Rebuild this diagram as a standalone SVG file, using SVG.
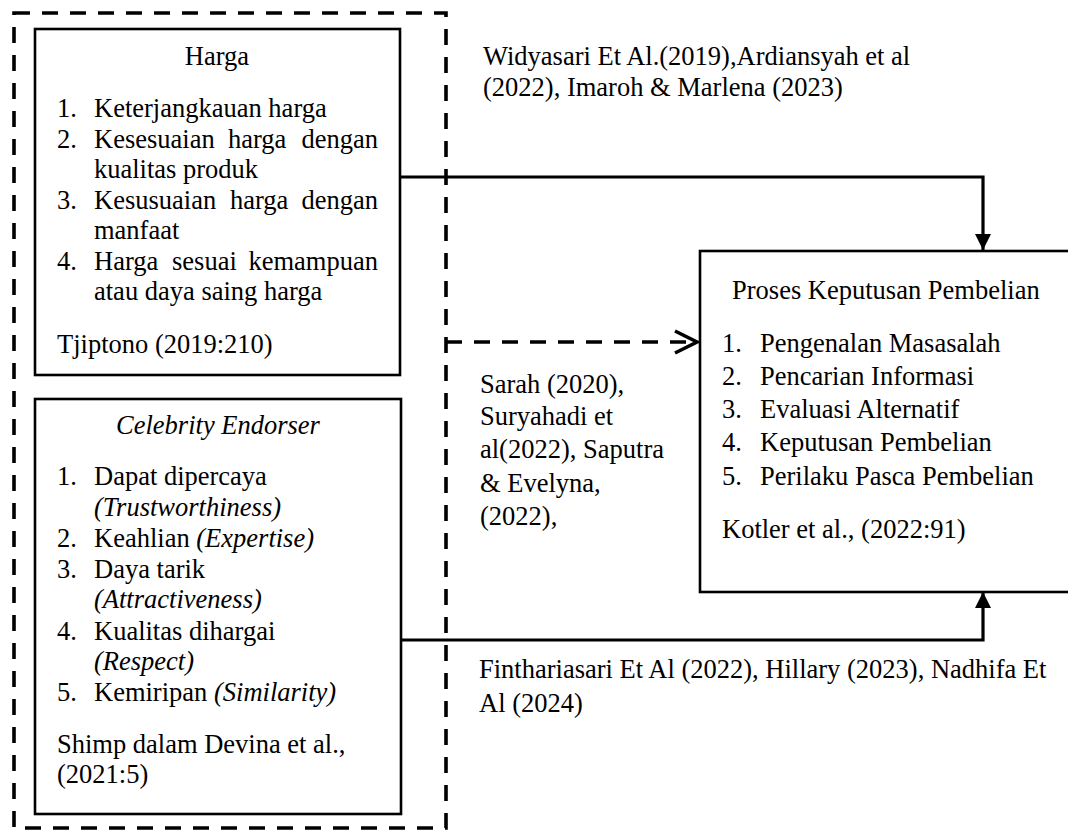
<svg xmlns="http://www.w3.org/2000/svg" width="1068" height="834" viewBox="0 0 1068 834" font-family="Liberation Serif, serif" font-size="26.5">
<style>
.it{font-style:italic}
.box{fill:#fff;stroke:#000;stroke-width:2.6}
.dash{fill:none;stroke:#000;stroke-width:3.6;stroke-dasharray:16 12}
.conn{fill:none;stroke:#000;stroke-width:3.2}
</style>
<defs>
<marker id="tri" viewBox="0 0 16 16" refX="16" refY="8" markerWidth="16" markerHeight="16" markerUnits="userSpaceOnUse" orient="auto">
<path d="M0,0 L16,8 L0,16 Z" fill="#000"/>
</marker>
<marker id="chev" viewBox="0 0 26 26" refX="24" refY="13" markerWidth="26" markerHeight="26" markerUnits="userSpaceOnUse" orient="auto">
<path d="M2,2 L24,13 L2,24" fill="none" stroke="#000" stroke-width="3.6"/>
</marker>
</defs>
<rect width="1068" height="834" fill="#fff"/>

<g id="group-outer">
<rect class="dash" x="14" y="13" width="432" height="815"/>
</g>

<g id="node-harga" font-family="Liberation Serif, serif">
<rect class="box" x="35" y="29" width="365" height="346"/>
<text x="217" y="65" text-anchor="middle">Harga</text>
<text x="57" y="117">1.</text><text x="94" y="117">Keterjangkauan harga</text>
<text x="57" y="148">2.</text><text x="94" y="148">Kesesuaian</text><text x="228" y="148">harga</text><text x="378" y="148" text-anchor="end">dengan</text>
<text x="94" y="178">kualitas produk</text>
<text x="57" y="209">3.</text><text x="94" y="209">Kesusuaian</text><text x="230" y="209">harga</text><text x="378" y="209" text-anchor="end">dengan</text>
<text x="94" y="239">manfaat</text>
<text x="57" y="270">4.</text><text x="94" y="270">Harga</text><text x="172" y="270">sesuai</text><text x="378" y="270" text-anchor="end">kemampuan</text>
<text x="94" y="300">atau daya saing harga</text>
<text x="57" y="353">Tjiptono (2019:210)</text>
</g>

<g id="node-celebrity" font-family="Liberation Serif, serif">
<rect class="box" x="35" y="399" width="366" height="415"/>
<text x="218" y="434" text-anchor="middle" class="it">Celebrity Endorser</text>
<text x="57" y="485">1.</text><text x="94" y="485">Dapat dipercaya</text>
<text x="94" y="516" class="it">(Trustworthiness)</text>
<text x="57" y="547">2.</text><text x="94" y="547">Keahlian <tspan class="it">(Expertise)</tspan></text>
<text x="57" y="578">3.</text><text x="94" y="578">Daya tarik</text>
<text x="94" y="608" class="it">(Attractiveness)</text>
<text x="57" y="640">4.</text><text x="94" y="640">Kualitas dihargai</text>
<text x="94" y="670" class="it">(Respect)</text>
<text x="57" y="701">5.</text><text x="94" y="701">Kemiripan <tspan class="it">(Similarity)</tspan></text>
<text x="57" y="753">Shimp dalam Devina et al.,</text>
<text x="57" y="783">(2021:5)</text>
</g>

<g id="node-proses" font-family="Liberation Serif, serif">
<rect class="box" x="700" y="251" width="380" height="341"/>
<text x="732" y="299">Proses Keputusan Pembelian</text>
<text x="722" y="352">1.</text><text x="760" y="352">Pengenalan Masasalah</text>
<text x="722" y="385">2.</text><text x="760" y="385">Pencarian Informasi</text>
<text x="722" y="418">3.</text><text x="760" y="418">Evaluasi Alternatif</text>
<text x="722" y="451">4.</text><text x="760" y="451">Keputusan Pembelian</text>
<text x="722" y="485">5.</text><text x="760" y="485">Perilaku Pasca Pembelian</text>
<text x="722" y="538">Kotler et al., (2022:91)</text>
</g>

<g id="connectors">
<path class="conn" d="M400,177 H983 V250" marker-end="url(#tri)"/>
<path class="conn" d="M401,640 H983 V592" marker-end="url(#tri)"/>
<path class="dash" d="M446,342 H697" marker-end="url(#chev)"/>
</g>

<g id="labels" font-family="Liberation Serif, serif">
<text x="483" y="65">Widyasari Et Al.(2019),Ardiansyah et al</text>
<text x="483" y="96">(2022), Imaroh &amp; Marlena (2023)</text>
<text x="480" y="393">Sarah (2020),</text>
<text x="480" y="425">Suryahadi et</text>
<text x="480" y="458">al(2022), Saputra</text>
<text x="480" y="492">&amp; Evelyna,</text>
<text x="480" y="525">(2022),</text>
<text x="479" y="678">Finthariasari Et Al (2022), Hillary (2023), Nadhifa Et</text>
<text x="479" y="712">Al (2024)</text>
</g>
</svg>
